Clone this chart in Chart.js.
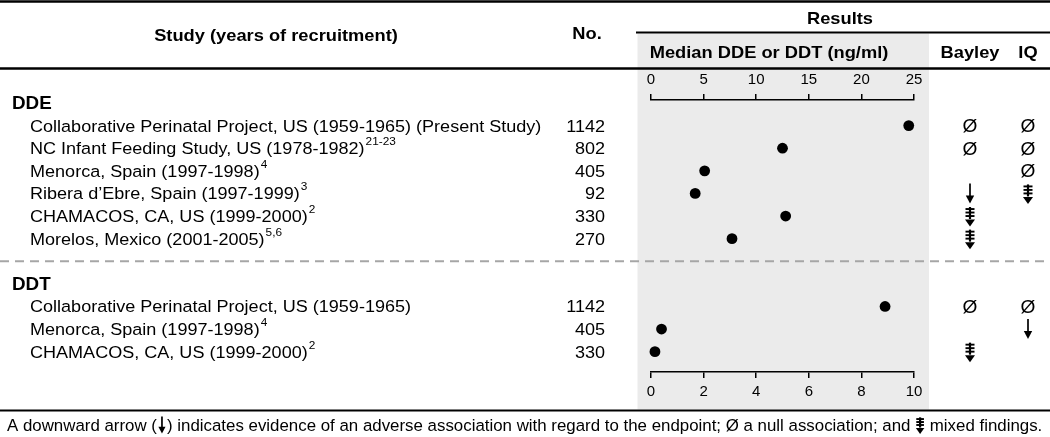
<!DOCTYPE html>
<html><head><meta charset="utf-8">
<script src="https://cdn.jsdelivr.net/npm/chart.js@4.4.1/dist/chart.umd.min.js"></script>
<style>html,body{margin:0;padding:0;background:#fff;overflow:hidden}#wrap{width:1050px;height:437px;position:relative}</style>
</head><body><div id="wrap"><canvas id="c" width="1050" height="437"></canvas></div>
<script>
// ---------- data ----------
const groupLabels = ['DDE', 'DDT'];
const ddeStudies = [
  'Collaborative Perinatal Project, US (1959-1965) (Present Study)',
  'NC Infant Feeding Study, US (1978-1982)',
  'Menorca, Spain (1997-1998)',
  'Ribera d\u2019Ebre, Spain (1997-1999)',
  'CHAMACOS, CA, US (1999-2000)',
  'Morelos, Mexico (2001-2005)'
];
const ddeRefs = ['', '21-23', '4', '3', '2', '5,6'];
const ddeN = [1142, 802, 405, 92, 330, 270];
const ddeMedian = [24.5, 12.5, 5.1, 4.2, 12.8, 7.7];
const ddeBayley = ['null', 'null', '', 'down', 'mixed', 'mixed'];
const ddeIQ = ['null', 'null', 'null', 'mixed', '', ''];

const ddtStudies = [
  'Collaborative Perinatal Project, US (1959-1965)',
  'Menorca, Spain (1997-1998)',
  'CHAMACOS, CA, US (1999-2000)'
];
const ddtRefs = ['', '4', '2'];
const ddtN = [1142, 405, 330];
const ddtMedian = [8.9, 0.4, 0.15];
const ddtBayley = ['null', '', 'mixed'];
const ddtIQ = ['null', 'down', ''];

const ddeTicks = [0, 5, 10, 15, 20, 25];
const ddtTicks = [0, 2, 4, 6, 8, 10];

const hdrStudy = 'Study (years of recruitment)';
const hdrNo = 'No.';
const hdrResults = 'Results';
const hdrMedian = 'Median DDE or DDT (ng/ml)';
const hdrBayley = 'Bayley';
const hdrIQ = 'IQ';
const footParts = ['A downward arrow (', {g: 'down'}, ') indicates evidence of an adverse association with regard to the endpoint; \u00D8 a null association; and ', {g: 'mixed'}, ' mixed findings.'];

// ---------- row slots ----------
const ddeSlot = i => i + 1;
const dashSlot = ddeStudies.length + 1;
const ddtHeadSlot = dashSlot + 1;
const ddtSlot = i => ddtHeadSlot + 1 + i;

// ---------- styles ----------
const FF = '"Liberation Sans", Arial, Helvetica, sans-serif';
const SX = 1.075;
const BODY = 16.8, BOLD = 17;

function txt(ctx, s, x, cy, align, size, bold, sx) {
  sx = sx || SX;
  ctx.save();
  ctx.font = (bold ? 'bold ' : '') + size + 'px ' + FF;
  ctx.fillStyle = '#000';
  ctx.textBaseline = 'alphabetic';
  ctx.textAlign = 'left';
  const w = ctx.measureText(s).width * sx;
  const x0 = align === 'center' ? x - w / 2 : align === 'right' ? x - w : x;
  ctx.translate(x0, cy + 0.36 * size);
  ctx.scale(sx, 1);
  ctx.fillText(s, 0, 0);
  ctx.restore();
  return w;
}
function glyph(ctx, kind, cx, cy, k) {
  k = k || 1;
  if (kind === 'null') {
    txt(ctx, '\u00D8', cx, cy, 'center', BODY + 1, false);
    return;
  }
  ctx.save();
  ctx.fillStyle = '#000'; ctx.strokeStyle = '#000';
  if (kind === 'down') {
    ctx.lineWidth = 1.7;
    ctx.beginPath(); ctx.moveTo(cx, cy - 10 * k); ctx.lineTo(cx, cy + 3 * k); ctx.stroke();
    ctx.beginPath(); ctx.moveTo(cx - 4.2 * k, cy + 2 * k); ctx.lineTo(cx + 4.2 * k, cy + 2 * k); ctx.lineTo(cx, cy + 10 * k); ctx.closePath(); ctx.fill();
  } else if (kind === 'mixed') {
    ctx.lineWidth = 2.2;
    ctx.beginPath(); ctx.moveTo(cx, cy - 9 * k); ctx.lineTo(cx, cy + 3 * k); ctx.stroke();
    ctx.lineWidth = 1.9;
    [-7, -3.5, 0].forEach(d => { ctx.beginPath(); ctx.moveTo(cx - 4.5 * k, cy + d * k); ctx.lineTo(cx + 4.5 * k, cy + d * k); ctx.stroke(); });
    ctx.beginPath(); ctx.moveTo(cx - 5 * k, cy + 3.5 * k); ctx.lineTo(cx + 5 * k, cy + 3.5 * k); ctx.lineTo(cx, cy + 10.5 * k); ctx.closePath(); ctx.fill();
  }
  ctx.restore();
}
function hline(ctx, x1, x2, y, w, color, dash) {
  ctx.save(); ctx.strokeStyle = color || '#000'; ctx.lineWidth = w;
  if (dash) ctx.setLineDash(dash);
  ctx.beginPath(); ctx.moveTo(x1, y); ctx.lineTo(x2, y); ctx.stroke(); ctx.restore();
}

const tablePlugin = {
  id: 'table',
  beforeDraw(chart) {
    const ctx = chart.ctx, ca = chart.chartArea, ys = chart.scales.y;
    const W = chart.width;
    ctx.save();
    ctx.fillStyle = '#fff'; ctx.fillRect(0, 0, W, chart.height);
    // shaded plot column
    ctx.fillStyle = '#ebebeb';
    ctx.fillRect(ca.left - 13.5, 33.5, (ca.right + 15) - (ca.left - 13.5), 409.5 - 33.5);
    ctx.restore();
    // rules
    hline(ctx, 0, W, 1.5, 2.5);
    hline(ctx, ca.left - 15, W, 32.5, 2);
    hline(ctx, 0, W, 68.5, 2.5);
    hline(ctx, 0, W, ys.getPixelForValue(dashSlot), 2, '#a6a6a6', [9, 6]);
    hline(ctx, 0, W, 410.5, 2);
    // headers
    txt(ctx, hdrStudy, 276, 35, 'center', BOLD, true);
    txt(ctx, hdrNo, 587, 33, 'center', BOLD, true);
    txt(ctx, hdrResults, 840, 18, 'center', BOLD, true);
    txt(ctx, hdrMedian, 769, 52, 'center', BOLD, true);
    const bx = 970, ix = 1028;
    txt(ctx, hdrBayley, bx, 52, 'center', BOLD, true);
    txt(ctx, hdrIQ, ix, 52, 'center', BOLD, true);
    // group rows
    const drawGroup = (label, headSlot, studies, refs, ns, bay, iq, slotFn) => {
      txt(ctx, label, 12, ys.getPixelForValue(headSlot), 'left', BOLD + 0.5, true);
      studies.forEach((s, i) => {
        const y = ys.getPixelForValue(slotFn(i));
        const w = txt(ctx, s, 30, y, 'left', BODY, false);
        if (refs[i]) txt(ctx, refs[i], 30 + w + 1, y - 7, 'left', 11, false);
        txt(ctx, String(ns[i]), 605, y, 'right', BODY, false);
        if (bay[i]) glyph(ctx, bay[i], bx, y);
        if (iq[i]) glyph(ctx, iq[i], ix, y);
      });
    };
    drawGroup(groupLabels[0], 0, ddeStudies, ddeRefs, ddeN, ddeBayley, ddeIQ, ddeSlot);
    drawGroup(groupLabels[1], ddtHeadSlot, ddtStudies, ddtRefs, ddtN, ddtBayley, ddtIQ, ddtSlot);
    // footnote
    let fx = 7; const fy = 425;
    footParts.forEach(p => {
      if (typeof p === 'string') fx += txt(ctx, p, fx, fy, 'left', BODY, false, 1.005);
      else { glyph(ctx, p.g, fx + 5, fy, 0.85); fx += 10; }
    });
  }
};

const tickFont = {family: FF, size: 15};
new Chart(document.getElementById('c'), {
  type: 'scatter',
  data: {
    datasets: [
      {label: 'DDE', xAxisID: 'xTop', data: ddeMedian.map((v, i) => ({x: v, y: ddeSlot(i)})), clip: false,
       pointRadius: 5.4, pointBackgroundColor: '#000', pointBorderWidth: 0, pointHoverRadius: 5.4},
      {label: 'DDT', xAxisID: 'xBot', data: ddtMedian.map((v, i) => ({x: v, y: ddtSlot(i)})), clip: false,
       pointRadius: 5.4, pointBackgroundColor: '#000', pointBorderWidth: 0, pointHoverRadius: 5.4}
    ]
  },
  options: {
    responsive: false, animation: false, devicePixelRatio: 1,
    layout: {padding: {left: 651, right: 136, top: 70, bottom: 35}},
    plugins: {legend: {display: false}, tooltip: {enabled: false}},
    scales: {
      y: {type: 'linear', display: false, reverse: true, min: -0.133, max: 11.9},
      xTop: {
        type: 'linear', position: 'top', min: 0, max: 25,
        afterBuildTicks: s => { s.ticks = ddeTicks.map(v => ({value: v})); },
        afterFit: s => { s.height = 30; },
        ticks: {font: tickFont, color: '#000', padding: 5, maxRotation: 0},
        grid: {display: true, drawOnChartArea: false, drawTicks: true, tickLength: 6, color: '#000', lineWidth: 1.5},
        border: {display: true, color: '#000', width: 1.5}
      },
      xBot: {
        type: 'linear', position: 'bottom', min: 0, max: 10,
        afterBuildTicks: s => { s.ticks = ddtTicks.map(v => ({value: v})); },
        afterFit: s => { s.height = 30; },
        ticks: {font: tickFont, color: '#000', padding: 5, maxRotation: 0},
        grid: {display: true, drawOnChartArea: false, drawTicks: true, tickLength: 6, color: '#000', lineWidth: 1.5},
        border: {display: true, color: '#000', width: 1.5}
      }
    }
  },
  plugins: [tablePlugin]
});
</script></body></html>
